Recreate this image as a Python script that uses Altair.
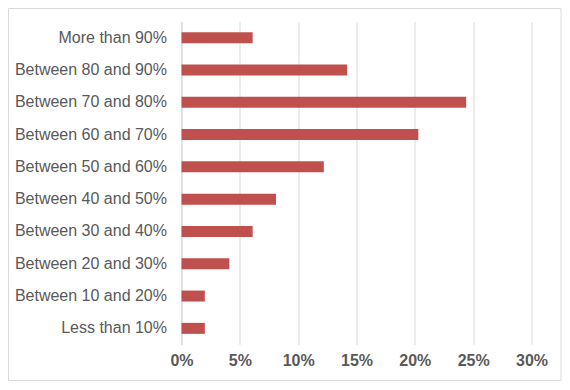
import altair as alt
import pandas as pd

categories = [
    "More than 90%",
    "Between 80 and 90%",
    "Between 70 and 80%",
    "Between 60 and 70%",
    "Between 50 and 60%",
    "Between 40 and 50%",
    "Between 30 and 40%",
    "Between 20 and 30%",
    "Between 10 and 20%",
    "Less than 10%",
]
shares = [0.061, 0.142, 0.244, 0.203, 0.122, 0.081, 0.061, 0.041, 0.020, 0.020]
x_ticks = [0, 0.05, 0.10, 0.15, 0.20, 0.25, 0.30]

df = pd.DataFrame({"category": categories, "share": shares})

GRID = "#D9D9D9"
TEXT = "#595959"

bars = alt.Chart(df).mark_bar(color="#C0504D").encode(
    x=alt.X(
        "share:Q",
        scale=alt.Scale(domain=[0, 0.30], nice=False),
        axis=alt.Axis(
            values=x_ticks,
            format=".0%",
            title=None,
            grid=True,
            gridColor=GRID,
            gridWidth=1,
            domain=False,
            ticks=False,
            labelFlush=False,
            labelOverlap=False,
            labelFont="Liberation Sans",
            labelFontSize=16,
            labelFontWeight="bold",
            labelColor=TEXT,
            labelPadding=8,
        ),
    ),
    y=alt.Y(
        "category:N",
        sort=None,
        scale=alt.Scale(paddingInner=0.66, paddingOuter=0.33),
        axis=alt.Axis(
            title=None,
            ticks=False,
            domain=True,
            domainColor=GRID,
            domainWidth=1,
            labelFont="Liberation Sans",
            labelFontSize=16,
            labelColor=TEXT,
            labelPadding=15,
        ),
    ),
)

frame = alt.Chart(pd.DataFrame({"k": [0]})).mark_rect(
    fill="transparent", stroke=GRID, strokeWidth=1
).encode(
    x=alt.value(-173),
    x2=alt.value(379.5),
    y=alt.value(-13),
    y2=alt.value(359),
)

chart = alt.layer(bars, frame).properties(
    width=350,
    height=323,
    autosize=alt.AutoSizeParams(type="none"),
    padding={"left": 173.5, "top": 13.5, "right": 30.5, "bottom": 37},
    background="white",
).configure_view(stroke=None)

chart.save("out.html", embed_options={"renderer": "svg", "actions": False})
